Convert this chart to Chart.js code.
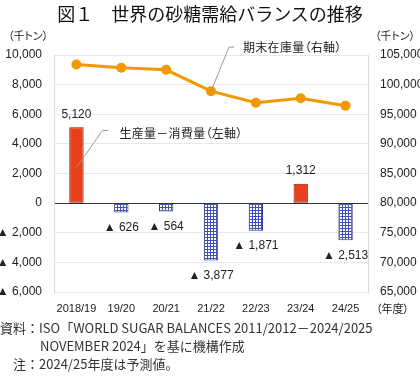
<!DOCTYPE html>
<html lang="ja">
<head>
<meta charset="utf-8">
<script src="https://cdn.jsdelivr.net/npm/chart.js@4.4.1/dist/chart.umd.min.js"></script>
<style>
  html, body { margin: 0; padding: 0; background: #fff; }
  body {
    width: 420px; height: 376px; position: relative; overflow: hidden;
    font-family: 'Noto Sans CJK JP', sans-serif; color: #222;
  }
  #chart { position: absolute; left: 0; top: 0; }
  .t { position: absolute; white-space: nowrap; }
  #title { left: 0; width: 420px; top: 1px; text-align: center; font-size: 18px; line-height: 24px; color: #111; }
  .unit { font-size: 11px; line-height: 14px; top: 28px; font-feature-settings: "palt"; }
  #unitL { left: 8px; }
  #unitR { left: 375px; }
  #year { left: 376px; top: 301px; font-size: 11px; line-height: 14px; font-feature-settings: "palt"; }
  .call { font-size: 12px; line-height: 16px; font-feature-settings: "palt"; letter-spacing: 0.3px; }
  .note { font-size: 13px; line-height: 17px; color: #333; }
  #n1 { left: 0; top: 319px; }
  #n2 { left: 40px; top: 337px; }
  #n3 { left: 13px; top: 355px; }
</style>
</head>
<body>
<canvas id="chart" width="420" height="376"></canvas>
<div class="t" id="title">図１　世界の砂糖需給バランスの推移</div>
<div class="t unit" id="unitL">（千トン）</div>
<div class="t unit" id="unitR">（千トン）</div>
<div class="t" id="year">（年度）</div>
<div class="t call" id="callBar">生産量－消費量（左軸）</div>
<div class="t call" id="callLine">期末在庫量（右軸）</div>
<div class="t note" id="n1">資料：ISO「WORLD SUGAR BALANCES 2011/2012－2024/2025</div>
<div class="t note" id="n2">NOVEMBER 2024」を基に機構作成</div>
<div class="t note" id="n3">注：2024/25年度は予測値。</div>
<script>
const years = ['2018/19', '19/20', '20/21', '21/22', '22/23', '23/24', '24/25'];
const balance = [5120, -626, -564, -3877, -1871, 1312, -2513];
const stocks = [103400, 102850, 102500, 98900, 96950, 97700, 96450];
const leftTicks = [-6000, -4000, -2000, 0, 2000, 4000, 6000, 8000, 10000];
const rightTicks = [65000, 70000, 75000, 80000, 85000, 90000, 95000, 100000, 105000];

const NUM_FONT = '"Liberation Sans", "Noto Sans CJK JP", sans-serif';
const fmt = (v) => Math.abs(v).toLocaleString('en-US');

function gridPattern() {
    const tile = document.createElement('canvas');
    tile.width = 3;
    tile.height = 3;
    const g = tile.getContext('2d');
    g.fillStyle = '#fff';
    g.fillRect(0, 0, 3, 3);
    g.fillStyle = '#3d4fc2';
    g.fillRect(0, 0, 3, 1);
    g.fillRect(0, 0, 1, 3);
    return g.createPattern(tile, 'repeat');
}

const hatch = gridPattern();

const barLabels = {
    id: 'barLabels',
    afterDatasetsDraw(chart) {
        const { ctx } = chart;
        const meta = chart.getDatasetMeta(1);
        ctx.save();
        ctx.font = '12px ' + NUM_FONT;
        ctx.fillStyle = '#222';
        ctx.textAlign = 'center';
        ctx.textBaseline = 'middle';
        meta.data.forEach((bar, i) => {
            const v = balance[i];
            if (v < 0) {
                ctx.fillText('▲ ' + fmt(v), bar.x, bar.y + 15);
            } else {
                ctx.fillText(fmt(v), bar.x, bar.y - 13);
            }
        });
        ctx.restore();
    },
};

function placeLabel(id, x, y) {
    const el = document.getElementById(id);
    el.style.left = x + 'px';
    el.style.top = (y - 8) + 'px';
}

// leader lines; the series names are html so they keep proportional brackets
const callouts = {
    id: 'callouts',
    afterDatasetsDraw(chart) {
        const { ctx, scales } = chart;
        const bar = chart.getDatasetMeta(1).data[0];
        const pt = chart.getDatasetMeta(0).data[3];
        const bx = bar.x, by = scales.y.getPixelForValue(2400);

        ctx.save();
        ctx.strokeStyle = '#9a9a9a';
        ctx.lineWidth = 1;
        ctx.beginPath();
        ctx.moveTo(bx, by);
        ctx.lineTo(bx + 26, by - 37);
        ctx.lineTo(bx + 32, by - 37);
        ctx.moveTo(pt.x, pt.y);
        ctx.lineTo(pt.x + 18, pt.y - 44);
        ctx.lineTo(pt.x + 23, pt.y - 44);
        ctx.stroke();
        ctx.restore();

        placeLabel('callBar', bx + 43, by - 35);
        placeLabel('callLine', pt.x + 32, pt.y - 44);
    },
};

new Chart(document.getElementById('chart'), {
    data: {
        labels: years,
        datasets: [
            {
                type: 'line',
                label: '期末在庫量（右軸）',
                data: stocks,
                yAxisID: 'y2',
                borderColor: '#f39800',
                backgroundColor: '#f39800',
                borderWidth: 3,
                pointRadius: 5,
                pointBorderWidth: 0,
                pointBackgroundColor: '#f39800',
                tension: 0,
                order: 0,
            },
            {
                type: 'bar',
                label: '生産量－消費量（左軸）',
                data: balance,
                yAxisID: 'y',
                backgroundColor: balance.map((v) => (v < 0 ? hatch : '#e8401c')),
                borderColor: balance.map((v) => (v < 0 ? '#2b3580' : '#7a1a0a')),
                borderWidth: 1,
                borderSkipped: false,
                categoryPercentage: 1,
                barPercentage: 0.32,
                order: 1,
            },
        ],
    },
    options: {
        responsive: false,
        animation: false,
        layout: { padding: { top: 55, bottom: 64, left: 0, right: 0 } },
        plugins: {
            legend: { display: false },
            tooltip: { enabled: false },
        },
        scales: {
            x: {
                grid: { display: false, drawTicks: false },
                border: { display: false },
                ticks: { color: '#222', font: { size: 11, family: NUM_FONT }, padding: 10, maxRotation: 0, autoSkip: false },
                afterFit(s) { s.height = 20; },
            },
            y: {
                position: 'left',
                min: -6000,
                max: 10000,
                afterBuildTicks(s) { s.ticks = leftTicks.map((value) => ({ value })); },
                ticks: {
                    color: '#222',
                    font: { size: 12, family: NUM_FONT },
                    padding: 12,
                    callback: (v) => (v < 0 ? '▲ ' + fmt(v) : fmt(v)),
                },
                grid: {
                    drawTicks: false,
                    color: (c) => (c.tick && c.tick.value === 0 ? '#333' : '#e8e8e8'),
                },
                border: { color: '#dcdcdc' },
                afterFit(s) { s.width = 54; },
            },
            y2: {
                position: 'right',
                min: 65000,
                max: 105000,
                afterBuildTicks(s) { s.ticks = rightTicks.map((value) => ({ value })); },
                ticks: {
                    color: '#222',
                    font: { size: 12, family: NUM_FONT },
                    padding: 12,
                    callback: (v) => fmt(v),
                },
                grid: { display: false, drawTicks: false },
                border: { color: '#dcdcdc' },
                afterFit(s) { s.width = 52; },
            },
        },
    },
    plugins: [barLabels, callouts],
});
</script>
</body>
</html>
